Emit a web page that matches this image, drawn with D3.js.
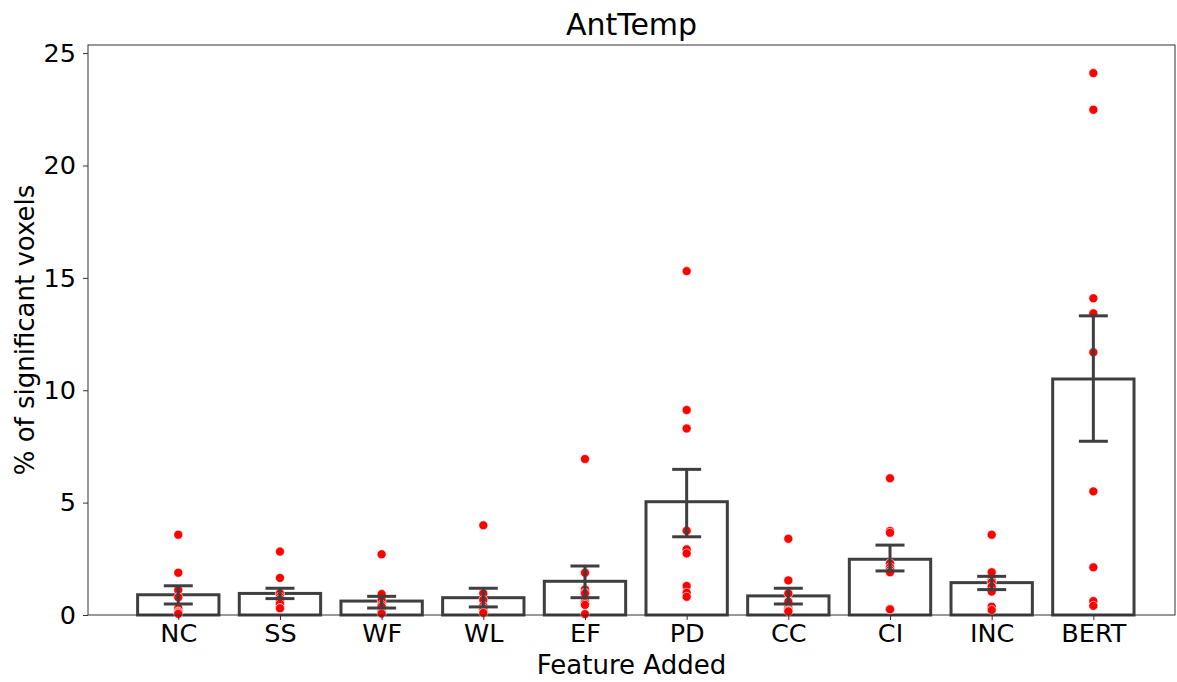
<!DOCTYPE html>
<html lang="en">
<head>
    <meta charset="utf-8" />
    <script src="https://cdnjs.cloudflare.com/ajax/libs/d3/7.8.5/d3.min.js"></script>
    <style type="text/css">
        html, body { margin: 0; padding: 0; background: white; overflow: hidden; }
        svg { display: block; }
        text { font-family: "DejaVu Sans", sans-serif; fill: #000; }
    </style>
</head>
<body>
    <div class="viz-box"></div>
    <script type="text/javascript">
        // values
        var categories = ["NC", "SS", "WF", "WL", "EF", "PD", "CC", "CI", "INC", "BERT"];
        var means = [0.90, 0.96, 0.62, 0.77, 1.50, 5.04, 0.85, 2.48, 1.44, 10.50];
        var errLow = [0.49, 0.73, 0.31, 0.36, 0.77, 3.48, 0.49, 1.96, 1.13, 7.73];
        var errHigh = [1.30, 1.19, 0.83, 1.19, 2.18, 6.48, 1.19, 3.11, 1.72, 13.31];
        var subjectValues = [
            [3.57, 1.88, 1.11, 0.79, 0.30, 0.15, 0.15, 0.10, 0.05],
            [2.82, 1.65, 0.96, 0.81, 0.70, 0.59, 0.50, 0.31, 0.30],
            [2.70, 0.93, 0.67, 0.45, 0.37, 0.15, 0.15, 0.10, 0.06],
            [3.99, 0.96, 0.67, 0.40, 0.30, 0.22, 0.20, 0.10, 0.09],
            [6.94, 1.88, 1.14, 0.99, 0.96, 0.60, 0.52, 0.45, 0.04],
            [15.30, 9.12, 8.30, 3.75, 2.92, 2.74, 1.29, 0.99, 0.81],
            [3.39, 1.54, 0.96, 0.59, 0.30, 0.30, 0.22, 0.19, 0.16],
            [6.08, 3.74, 3.66, 2.30, 2.12, 2.00, 1.90, 0.27, 0.25],
            [3.57, 1.90, 1.56, 1.50, 1.45, 1.26, 1.04, 0.37, 0.22],
            [24.11, 22.48, 14.09, 13.42, 11.69, 5.50, 2.12, 0.62, 0.41]
        ];
        var yTicks = [0, 5, 10, 15, 20, 25];

        var width = 1177, height = 682;
        var margins = { left: 88, right: 2, top: 45, bottom: 67 };
        var innerWidth = width - margins.left - margins.right;
        var innerHeight = height - margins.top - margins.bottom;
        var ink = "#3f3f3f";

        var svg = d3.select("div.viz-box")
            .append("svg")
            .attr("width", width)
            .attr("height", height)
            .append("g")
            .attr("transform", "translate(" + margins.left + "," + margins.top + ")");

        // positions in category units, like matplotlib does
        var x = d3.scaleLinear().domain([-0.888, 9.803]).range([0, innerWidth]);
        var y = d3.scaleLinear().domain([0, 25.36]).range([innerHeight, 0]);
        var barW = x(0.8) - x(0);
        var capW = x(0.285) - x(0);

        // bars
        svg.selectAll("rect.bar")
            .data(means)
            .enter()
            .append("rect")
            .attr("class", "bar")
            .attr("x", function (d, i) { return x(i) - barW / 2; })
            .attr("y", function (d) { return y(d); })
            .attr("width", barW)
            .attr("height", function (d) { return y(0) - y(d); })
            .attr("fill", "white")
            .attr("stroke", ink)
            .attr("stroke-width", 3);

        // subject dots
        categories.forEach(function (c, i) {
            svg.selectAll(null)
                .data(subjectValues[i])
                .enter()
                .append("circle")
                .attr("cx", x(i))
                .attr("cy", function (d) { return y(d); })
                .attr("r", 4.5)
                .attr("fill", "red")
                .attr("stroke", "white")
                .attr("stroke-width", 0.6);
        });

        // error bars
        var eb = svg.selectAll("g.err")
            .data(categories)
            .enter()
            .append("g")
            .attr("class", "err")
            .attr("stroke", ink)
            .attr("stroke-width", 3);
        eb.append("line")
            .attr("x1", function (d, i) { return x(i); })
            .attr("x2", function (d, i) { return x(i); })
            .attr("y1", function (d, i) { return y(errLow[i]); })
            .attr("y2", function (d, i) { return y(errHigh[i]); });
        eb.append("line")
            .attr("x1", function (d, i) { return x(i) - capW / 2; })
            .attr("x2", function (d, i) { return x(i) + capW / 2; })
            .attr("y1", function (d, i) { return y(errLow[i]); })
            .attr("y2", function (d, i) { return y(errLow[i]); });
        eb.append("line")
            .attr("x1", function (d, i) { return x(i) - capW / 2; })
            .attr("x2", function (d, i) { return x(i) + capW / 2; })
            .attr("y1", function (d, i) { return y(errHigh[i]); })
            .attr("y2", function (d, i) { return y(errHigh[i]); });

        // axes
        var xAxis = d3.axisBottom(x)
            .tickValues(d3.range(categories.length))
            .tickFormat(function (d) { return categories[d]; })
            .tickSize(5).tickPadding(4);
        var yAxis = d3.axisLeft(y)
            .tickValues(yTicks)
            .tickSize(5).tickPadding(7);

        var gx = svg.append("g")
            .attr("transform", "translate(0," + innerHeight + ")")
            .call(xAxis);
        var gy = svg.append("g").call(yAxis);
        [gx, gy].forEach(function (g) {
            g.select(".domain").remove();
            g.selectAll("line").attr("stroke", "#333").attr("stroke-width", 1);
            g.selectAll("text").style("font-size", "25.5px").style("font-family", "DejaVu Sans");
        });

        // frame
        svg.append("rect")
            .attr("width", innerWidth)
            .attr("height", innerHeight)
            .attr("fill", "none")
            .attr("stroke", "#333")
            .attr("stroke-width", 1);

        svg.append("text")
            .attr("x", innerWidth / 2)
            .attr("y", -10)
            .style("text-anchor", "middle")
            .style("font-size", "30px")
            .text("AntTemp");

        svg.append("text")
            .attr("x", innerWidth / 2)
            .attr("y", innerHeight + 59)
            .style("text-anchor", "middle")
            .style("font-size", "26px")
            .text("Feature Added");

        svg.append("text")
            .attr("transform", "translate(" + (-54) + "," + (innerHeight / 2) + ") rotate(-90)")
            .style("text-anchor", "middle")
            .style("font-size", "26px")
            .text("% of significant voxels");
    </script>
</body>
</html>
